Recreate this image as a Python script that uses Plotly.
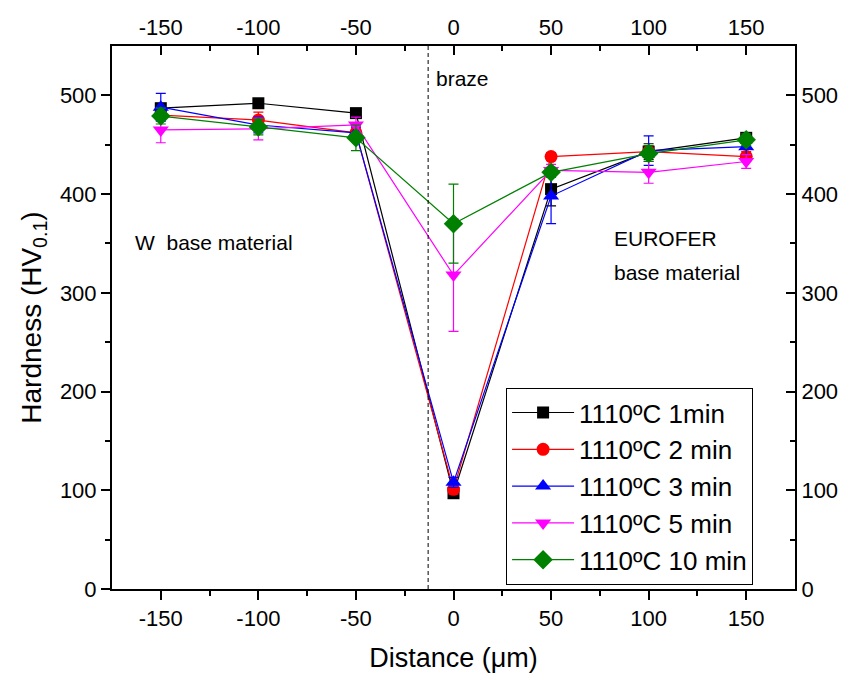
import plotly.graph_objects as go

distance = [-150, -100, -50, 0, 50, 100, 150]
series_names = ["1110ºC 1min", "1110ºC 2 min", "1110ºC 3 min", "1110ºC 5 min", "1110ºC 10 min"]
hv_1min = [487, 492, 482, 97, 405, 443, 457]
err_1min = [4, 4, 4, 4, 17, 8, 4]
hv_2min = [480, 475, 462, 101, 438, 443, 438]
err_2min = [5, 8, 5, 5, 4, 6, 5]
hv_3min = [488, 470, 462, 108, 398, 444, 448]
err_3min = [14, 8, 6, 5, 28, 15, 8]
hv_5min = [465, 466, 470, 318, 424, 422, 433]
err_5min = [13, 11, 8, 57, 6, 11, 7]
hv_10min = [479, 468, 457, 370, 422, 441, 455]
err_10min = [8, 8, 13, 40, 5, 8, 6]

x_ticks = [-150, -100, -50, 0, 50, 100, 150]
x_minor = [-125, -75, -25, 25, 75, 125]
y_ticks = [0, 100, 200, 300, 400, 500]
y_minor = [50, 150, 250, 350, 450]

values = [hv_1min, hv_2min, hv_3min, hv_5min, hv_10min]
errors = [err_1min, err_2min, err_3min, err_5min, err_10min]
colors = ["#000000", "#FF0000", "#0000FF", "#FF00FF", "#008000"]
symbols = ["square", "circle", "triangle-up", "triangle-down", "diamond"]
sizes = [12, 13, 14, 14, 15]

fig = go.Figure()
for name, y, e, c, s, sz in zip(series_names, values, errors, colors, symbols, sizes):
    fig.add_trace(go.Scatter(
        x=distance, y=y, name=name, mode="lines+markers",
        line=dict(color=c, width=1.2),
        marker=dict(symbol=s, size=sz, color=c),
        error_y=dict(type="data", array=e, color=c, thickness=1.2, width=5),
    ))

# anchor trace so that the mirrored (top / right) axes are drawn
fig.add_trace(go.Scatter(x=[None], y=[None], xaxis="x2", yaxis="y2",
                         showlegend=False, hoverinfo="skip", mode="markers"))

FONT = "Liberation Sans, Arial"
tickfont = dict(family=FONT, size=22, color="black")
x_text = [str(v) for v in x_ticks]
y_text = [str(v) for v in y_ticks]

common_x = dict(range=[-175, 175], tickvals=x_ticks, ticktext=x_text, ticklen=9, tickwidth=2,
                tickcolor="black", showline=True, linecolor="black", linewidth=2,
                showgrid=False, zeroline=False, tickfont=tickfont)
common_y = dict(range=[0, 550], tickvals=y_ticks, ticktext=y_text, ticklen=9, tickwidth=2,
                tickcolor="black", showline=True, linecolor="black", linewidth=2,
                showgrid=False, zeroline=False, tickfont=tickfont)

fig.update_layout(
    width=859, height=680,
    margin=dict(l=112, r=64, t=46, b=91),
    plot_bgcolor="white", paper_bgcolor="white",
    font=dict(family=FONT, color="black"),
    showlegend=True,
    legend=dict(x=0.577, y=0.37, xanchor="left", yanchor="top",
                bordercolor="black", borderwidth=1, bgcolor="white",
                font=dict(size=26, family=FONT),
                tracegroupgap=0, itemwidth=62),
    xaxis=dict(**common_x, ticks="outside",
               minor=dict(tickvals=x_minor, ticks="outside", ticklen=5, tickwidth=2, tickcolor="black"),
               title=dict(text="Distance (μm)", font=dict(size=27, family=FONT), standoff=18)),
    xaxis2=dict(**common_x, ticks="inside", overlaying="x", side="top", anchor="y2",
                minor=dict(tickvals=x_minor, ticks="inside", ticklen=5, tickwidth=2, tickcolor="black")),
    yaxis=dict(**common_y, ticks="outside",
               minor=dict(tickvals=y_minor, ticks="outside", ticklen=5, tickwidth=2, tickcolor="black"),
               title=dict(text="Hardness (HV<sub>0.1</sub>)", font=dict(size=28, family=FONT), standoff=10)),
    yaxis2=dict(**common_y, ticks="inside", overlaying="y", side="right", anchor="x2",
                minor=dict(tickvals=y_minor, ticks="inside", ticklen=5, tickwidth=2, tickcolor="black")),
)

fig.add_shape(type="line", xref="x", yref="paper", x0=-13, x1=-13, y0=0, y1=1,
              line=dict(color="black", width=1, dash="4px,3px"))

ann_font = dict(size=21, family=FONT, color="black")
fig.add_annotation(x=-10, y=517, xref="x", yref="y", text="braze", showarrow=False, xanchor="left", font=ann_font)
fig.add_annotation(x=-164, y=351, xref="x", yref="y", text="W\u00a0 base material", showarrow=False, xanchor="left", font=ann_font)
fig.add_annotation(x=81, y=355, xref="x", yref="y", text="EUROFER", showarrow=False, xanchor="left", font=ann_font)
fig.add_annotation(x=81, y=321, xref="x", yref="y", text="base material", showarrow=False, xanchor="left", font=ann_font)

fig.write_html("out.html")
